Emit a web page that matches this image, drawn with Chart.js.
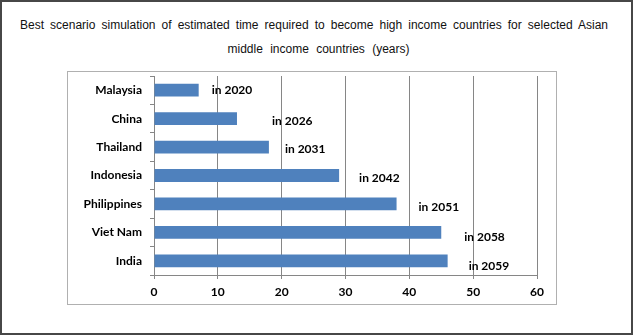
<!DOCTYPE html>
<html>
<head>
<meta charset="utf-8">
<script src="https://cdn.jsdelivr.net/npm/chart.js@4/dist/chart.umd.min.js"></script>
<style>
  body { margin: 0; background: #fff; }
  #frame { position: absolute; left: 0; top: 0; width: 633px; height: 335px; box-sizing: border-box; border: 2px solid #474747; }
  #inner { position: absolute; left: 67px; top: 71px; width: 490px; height: 234px; box-sizing: border-box; border: 1px solid #b0b0b0; }
  .title { position: absolute; font-family: "Liberation Sans", Arial, sans-serif; font-size: 12px; color: #111; white-space: nowrap; }
  #t1 { left: 20px; top: 18px; width: 588px; text-align: justify; text-align-last: justify; }
  #t2 { left: 2px; top: 42px; width: 633px; text-align: center; word-spacing: 4px; }
  canvas { position: absolute; left: 0; top: 0; }
</style>
</head>
<body>
<div id="frame"></div>
<div id="inner"></div>
<div class="title" id="t1">Best scenario simulation of estimated time required to become high income countries for selected Asian</div>
<div class="title" id="t2">middle income countries (years)</div>
<canvas id="grafico" width="633" height="335"></canvas>
<script>
const paises = ['Malaysia', 'China', 'Thailand', 'Indonesia', 'Philippines', 'Viet Nam', 'India'];
const anosNecesarios = [7, 13, 18, 29, 38, 45, 46];
const anoLlegada = [2020, 2026, 2031, 2042, 2051, 2058, 2059];
const ticksX = [0, 10, 20, 30, 40, 50, 60];

// desplazamiento manual de cada etiqueta (como en el original)
const ajusteEtiquetas = [[13, 0], [35, 2], [16, 2], [20, 3], [22, 3], [23, 5], [21, 5]];

const fuente = { family: 'Lato, "Liberation Sans", sans-serif', size: 12, weight: 'bold' };

const etiquetasPlugin = {
    id: 'etiquetasAno',
    afterDatasetsDraw(chart) {
        const ctx = chart.ctx;
        const meta = chart.getDatasetMeta(0);
        ctx.save();
        ctx.font = 'bold 12px Lato, "Liberation Sans", sans-serif';
        ctx.fillStyle = '#000';
        ctx.textAlign = 'left';
        ctx.textBaseline = 'middle';
        meta.data.forEach(function (barra, i) {
            const aj = ajusteEtiquetas[i];
            ctx.fillText('in ' + anoLlegada[i], barra.x + aj[0], barra.y + aj[1]);
        });
        ctx.restore();
    }
};

const contexto = document.getElementById('grafico').getContext('2d');

const graficoAnos = new Chart(contexto, {
    type: 'bar',
    data: {
        labels: paises,
        datasets: [{
            data: anosNecesarios,
            backgroundColor: '#4f81bd',
            borderWidth: 0,
            barPercentage: 0.45,
            categoryPercentage: 1
        }]
    },
    options: {
        indexAxis: 'y',
        responsive: false,
        animation: false,
        layout: { padding: { left: 0, top: 76, right: 96, bottom: 29 } },
        plugins: {
            legend: { display: false },
            tooltip: { enabled: false }
        },
        scales: {
            x: {
                min: 0,
                max: 60,
                afterBuildTicks(scale) {
                    scale.ticks = ticksX.map(v => ({ value: v }));
                },
                afterFit(scale) { scale.height = 31; },
                grid: { color: '#868686', tickLength: 4, tickColor: '#868686' },
                border: { color: '#868686' },
                ticks: { color: '#000', font: fuente, padding: 6, maxRotation: 0 }
            },
            y: {
                afterFit(scale) { scale.width = 154; },
                grid: { drawOnChartArea: false, tickLength: 4, tickColor: '#868686' },
                border: { color: '#868686' },
                ticks: { color: '#000', font: fuente, padding: 8 }
            }
        }
    },
    plugins: [etiquetasPlugin]
});
</script>
</body>
</html>
